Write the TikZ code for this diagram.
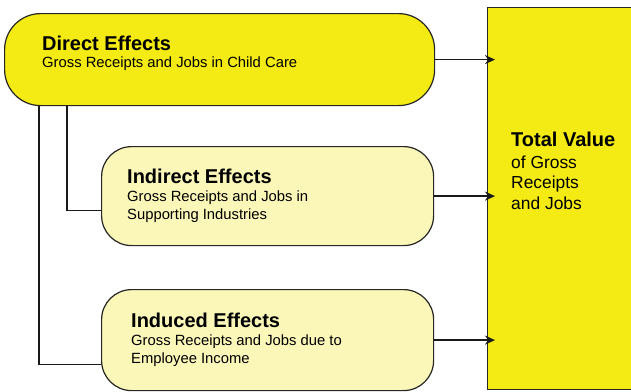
\documentclass[tikz,border=0pt]{standalone}
\usepackage{fontspec}
\setmainfont{Liberation Sans}
\usetikzlibrary{arrows.meta}
\definecolor{ybright}{HTML}{F4EA14}
\definecolor{ylight}{HTML}{FAF7B8}
\tikzset{
  box/.style={draw=black!85, line width=1.2pt, inner sep=0pt, anchor=north west},
  bigbox/.style={box, fill=ybright, rounded corners=36pt},
  smallbox/.style={box, fill=ylight, rounded corners=30pt},
  ttl/.style={anchor=base west, inner sep=0pt, font=\fontsize{20}{22}\selectfont\bfseries},
  sub/.style={anchor=base west, inner sep=0pt, font=\fontsize{14.8}{17}\selectfont},
  tsub/.style={anchor=base west, inner sep=0pt, font=\fontsize{17.4}{20}\selectfont},
  conn/.style={line width=1.6pt, black!90},
  arr/.style={conn, -{Stealth[length=10pt, width=9pt]}}
}
\begin{document}
\begin{tikzpicture}[x=1pt, y=-1pt]
\useasboundingbox (0,0) rectangle (631,391);
\begin{scope}
\clip (0,0) rectangle (631,391);
\node[box, fill=ybright, minimum width=160pt, minimum height=382pt] (total) at (487,7) {};
\node[bigbox, minimum width=430pt, minimum height=92pt] (direct) at (4,13) {};
\node[smallbox, minimum width=332pt, minimum height=99pt] (indirect) at (101,146) {};
\node[smallbox, minimum width=332pt, minimum height=101pt] (induced) at (101,289) {};
\end{scope}

\node[ttl] (dt) at (42,50) {Direct Effects};
\node[sub] (ds) at (42,67.5) {Gross Receipts and Jobs in Child Care};

\node[ttl] (it) at (127,183.3) {Indirect Effects};
\node[sub] (is1) at (127,201.5) {Gross Receipts and Jobs in};
\node[sub] (is2) at (127,219.3) {Supporting Industries};

\node[ttl] (nt) at (131,327.3) {Induced Effects};
\node[sub] (ns1) at (131,345.6) {Gross Receipts and Jobs due to};
\node[sub] (ns2) at (131,363.3) {Employee Income};

\node[ttl] (tt) at (511,146.7) {Total Value};
\node[tsub] (ts1) at (511,168.3) {of Gross};
\node[tsub] (ts2) at (511,188.8) {Receipts};
\node[tsub] (ts3) at (511,209.3) {and Jobs};

\coordinate (tin) at ([xshift=8pt]total.west);
\draw[arr] (direct.east) -- (tin |- direct.east);
\draw[arr] (indirect.east) -- (tin |- indirect.east);
\draw[arr] (induced.east) -- (tin |- induced.east);

\draw[conn] ([xshift=35pt]direct.south west) |- ([yshift=-24.5pt]induced.west);
\draw[conn] ([xshift=63pt]direct.south west) |- ([yshift=-14.5pt]indirect.west);
\end{tikzpicture}
\end{document}
